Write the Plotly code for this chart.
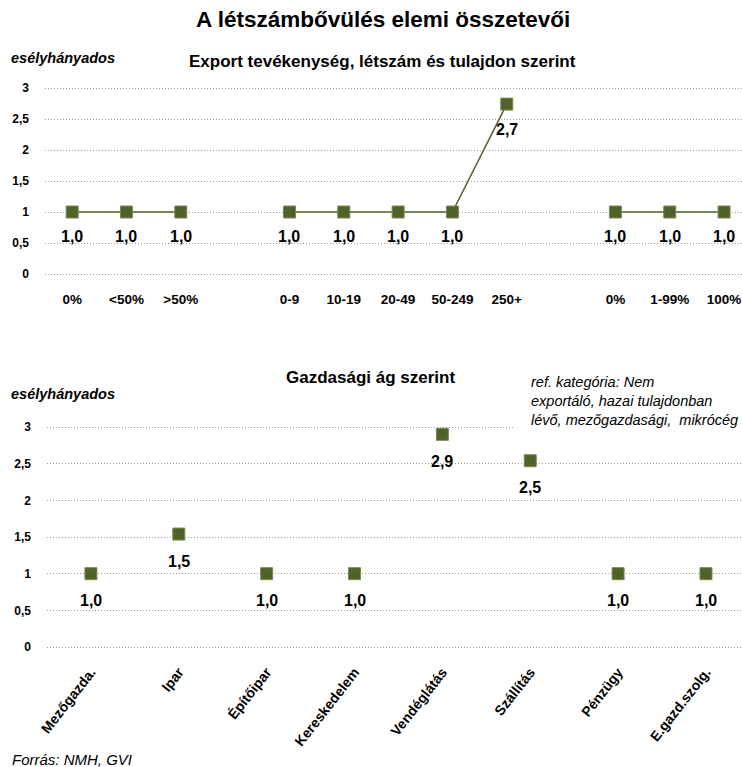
import plotly.graph_objects as go

# top chart: export / headcount / ownership (None = gap slot)
top_labels = ["0%", "<50%", ">50%", "", "0-9", "10-19", "20-49", "50-249", "250+", "", "0%", "1-99%", "100%"]
top_values = [1.0, 1.0, 1.0, None, 1.0, 1.0, 1.0, 1.0, 2.74, None, 1.0, 1.0, 1.0]

# bottom chart: sector
sector_labels = ["Mezőgazda.", "Ipar", "Építőipar", "Kereskedelem", "Vendéglátás", "Szállítás", "Pénzügy", "E.gazd.szolg."]
sector_values = [1.0, 1.54, 1.0, 1.0, 2.9, 2.54, 1.0, 1.0]

y_ticks = [0, 0.5, 1, 1.5, 2, 2.5, 3]

OLIVE = "#4F6228"
FONT = "Arial, Liberation Sans, sans-serif"

W, H = 742, 767


def py(px):
    return 1 - px / H


def pxx(px):
    return px / W


def fmt(v):
    return f"{v:.1f}".replace(".", ",")


fig = go.Figure()

x_top = list(range(len(top_labels)))
fig.add_trace(go.Scatter(
    x=x_top, y=top_values, mode="lines+markers",
    line=dict(color=OLIVE, width=1.5),
    marker=dict(symbol="square", size=12, color=OLIVE, line=dict(color="#7a8a55", width=1)),
    connectgaps=False, xaxis="x", yaxis="y", hoverinfo="skip",
))

x_bot = list(range(len(sector_labels)))
fig.add_trace(go.Scatter(
    x=x_bot, y=sector_values, mode="markers",
    marker=dict(symbol="square", size=12, color=OLIVE, line=dict(color="#7a8a55", width=1)),
    xaxis="x2", yaxis="y2", hoverinfo="skip",
))

annotations = []
for i, v in enumerate(top_values):
    if v is None:
        continue
    annotations.append(dict(x=i, y=v, xref="x", yref="y", text=f"<b>{fmt(v)}</b>",
                            showarrow=False, yshift=-25, font=dict(size=16, color="black")))
for i, v in enumerate(sector_values):
    annotations.append(dict(x=i, y=v, xref="x2", yref="y2", text=f"<b>{fmt(v)}</b>",
                            showarrow=False, yshift=-27, font=dict(size=16, color="black")))


def note(x, y, text, size, xanchor="center", **kw):
    return dict(x=pxx(x), y=py(y), xref="paper", yref="paper", showarrow=False,
                xanchor=xanchor, yanchor="middle", text=text, font=dict(size=size), **kw)


annotations += [
    note(383, 20, "<b>A létszámbővülés elemi összetevői</b>", 22.5),
    note(383, 61, "<b>Export tevékenység, létszám és tulajdon szerint</b>", 17),
    note(9, 58, "<b><i>esélyhányados</i></b>", 14.5, xanchor="left"),
    note(370, 377, "<b>Gazdasági ág szerint</b>", 17),
    note(9, 394, "<b><i>esélyhányados</i></b>", 14.5, xanchor="left"),
    note(529, 401, "<i>ref. kategória: Nem<br>exportáló, hazai tulajdonban<br>lévő, mezőgazdasági,  mikrócég</i>",
         14.5, xanchor="left", align="left"),
    note(10, 759, "<i>Forrás: NMH, GVI</i>", 15, xanchor="left"),
]

axis_common = dict(showline=False, zeroline=False, ticks="", automargin=False)
grid_y = dict(showgrid=True, gridcolor="#999999", griddash="1px,2px", gridwidth=1,
              tickvals=y_ticks, tickfont=dict(size=12, color="black", family=FONT),
              ticklabelstandoff=15, **axis_common)
y_text = [f"<b>{fmt(t) if t % 1 else int(t)}</b>" for t in y_ticks]

fig.update_layout(
    width=W, height=H,
    margin=dict(l=0, r=0, t=0, b=0),
    paper_bgcolor="white", plot_bgcolor="white",
    font=dict(family=FONT, color="black"),
    separators=", ",
    showlegend=False,
    xaxis=dict(domain=[pxx(45), 1], range=[-0.5, 12.33], showgrid=False,
               tickvals=x_top, ticktext=[f"<b>{t}</b>" for t in top_labels],
               tickfont=dict(size=13.5), tickangle=0, ticklabelstandoff=3, **axis_common),
    yaxis=dict(domain=[py(286.4), py(75.6)], range=[-0.2, 3.2], ticktext=y_text, **grid_y),
    xaxis2=dict(domain=[pxx(47), 1], range=[-0.5, 7.41], showgrid=False, anchor="y2",
                tickvals=x_bot, ticktext=[f"<b>{t}</b>" for t in sector_labels],
                tickfont=dict(size=14), tickangle=-52, **axis_common),
    yaxis2=dict(domain=[py(660.2), py(405)], range=[-0.18, 3.3], anchor="x2", ticktext=y_text, **grid_y),
    annotations=annotations,
    shapes=[dict(type="rect", xref="paper", yref="paper", layer="above",
                 x0=pxx(514), x1=1, y0=py(432), y1=py(372),
                 fillcolor="white", line=dict(width=0))],
)

# drop the default page margin so the figure fills the window exactly
fig.write_html("out.html", config={"displayModeBar": False},
               post_script="document.body.style.margin='0';document.body.style.overflow='hidden';")
